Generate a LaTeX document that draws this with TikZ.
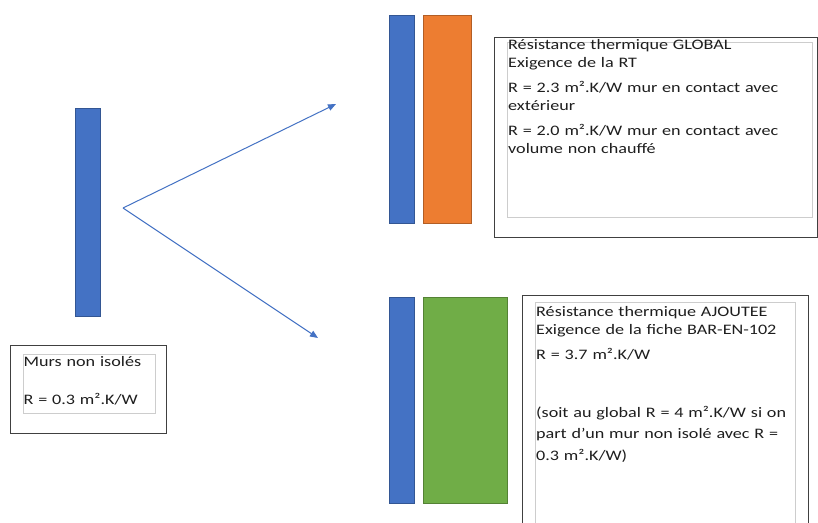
\documentclass[tikz,border=0pt]{standalone}
\usepackage{fontspec}
\setmainfont{Carlito}[FakeStretch=1.25]
\usetikzlibrary{arrows.meta}
\definecolor{mwBlue}  {RGB}{ 68,114,196}
\definecolor{mwOrange}{RGB}{237,125, 49}
\definecolor{mwGreen} {RGB}{112,173, 71}
\definecolor{mwFrame} {RGB}{205,205,205}
\definecolor{mwText}  {RGB}{ 30, 30, 30}

\begin{document}
\begin{tikzpicture}[x=1pt,y=-1pt,
  every node/.style={font=\fontsize{14.5}{18.5}\selectfont,text=mwText},
  >={Triangle[length=8pt,width=6.5pt]},
  bar/.style   ={fill=#1,draw=#1!75!black,line width=0.6pt,inner sep=0pt,
                 outer sep=0pt,minimum height=208pt},
  frm/.style   ={draw=black!75,line width=0.9pt,inner sep=0pt},
  txtfrm/.style={draw=mwFrame,line width=0.5pt,inner sep=0pt},
  txt/.style   ={anchor=north west,inner sep=0pt,align=left,text width=#1}
]
\clip (0,0) rectangle (818,522);
\fill[white] (0,0) rectangle (818,522);

% murs
\node[bar=mwBlue,minimum width=25pt] (wall) at (87.5,212) {};
\node[bar=mwBlue,minimum width=25pt] (wallG) at (401.5,119) {};
\node[bar=mwOrange,minimum width=48pt] (insG) at (447,119) {};
\node[bar=mwBlue,minimum width=25pt,minimum height=206pt] (wallA) at (401.5,400) {};
\node[bar=mwGreen,minimum width=84pt,minimum height=206pt] (insA) at (465,400) {};

% cadres
\node[frm,minimum width=156pt,minimum height=88pt] (fNon) at (88,389) {};
\node[txtfrm,minimum width=132pt,minimum height=59pt] (tfNon) at (89,383.5) {};
\node[frm,minimum width=323pt,minimum height=200pt] (fGlob) at (655.5,137) {};
\node[txtfrm,minimum width=305pt,minimum height=175pt] (tfGlob) at (659.5,129.5) {};
\node[frm,minimum width=286pt,minimum height=250pt] (fAjout) at (665,420) {};
\node[txtfrm,minimum width=260pt,minimum height=240pt] (tfAjout) at (665,422) {};

% textes
\node[txt=135pt] (tNon) at (23.5,356.5)
  {Murs non isolés\\[19.5pt]R = 0.3 m².K/W};
\node[txt=305pt] (tGlob) at (508,39)
  {Résistance thermique GLOBAL\\
   Exigence de la RT\\[6pt]
   R = 2.3 m².K/W mur en contact avec\\
   extérieur\\[6pt]
   R = 2.0 m².K/W mur en contact avec\\
   volume non chauffé};
\node[txt=260pt] (tAjout) at (536,306)
  {Résistance thermique AJOUTEE\\
   Exigence de la fiche BAR-EN-102\\[6pt]
   R = 3.7 m².K/W\\[39.5pt]
   (soit au global R = 4 m².K/W si on\\[3pt]
   part d'un mur non isolé avec R =\\[3pt]
   0.3 m².K/W)};

% fleches
\coordinate (fork) at (123,208);
\coordinate (tipG) at (336,104);
\coordinate (tipA) at (318,338);
\draw[->,mwBlue,line width=1pt] (fork) -- (tipG);
\draw[->,mwBlue,line width=1pt] (fork) -- (tipA);
\end{tikzpicture}
\end{document}
